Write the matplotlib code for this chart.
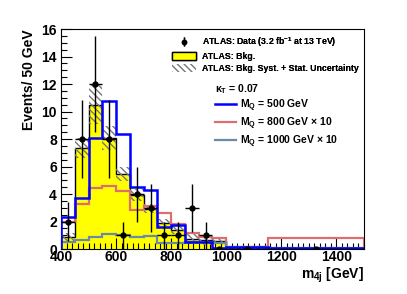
import numpy as np
import matplotlib
matplotlib.use("Agg")
import matplotlib.pyplot as plt
from matplotlib.patches import Patch
from matplotlib.lines import Line2D
from matplotlib.ticker import MultipleLocator

plt.rcParams["font.family"] = ["Liberation Sans", "DejaVu Sans"]
plt.rcParams["mathtext.default"] = "regular"

# binning (GeV)
edges = [400, 450, 500, 550, 600, 650, 700, 750, 800, 850, 900, 950, 1000, 1150, 1500]

# background + uncertainty
bkg = [0.85, 7.35, 10.5, 8.07, 5.48, 3.95, 2.93, 1.9, 1.4, 0.75, 0.62, 0.6, 0.08, 0.03]
bkg_err = [0.3, 0.75, 1.4, 0.9, 0.5, 0.45, 0.32, 0.25, 0.3, 0.35, 0.3, 0.2, 0.05, 0.02]

# data
data = [2, 8, 12, 8, 1, 4, 3, 1, 1, 3, 1, 0, 0, 0]

# signals
sig500 = [2.3, 3.7, 8.1, 10.8, 8.35, 4.5, 4.3, 1.6, 1.75, 0.53, 0.53, 0.08, 0.12, 0.08]
sig800 = [2.0, 3.3, 4.45, 4.6, 4.2, 2.85, 3.15, 2.65, 1.85, 1.17, 0.9, 0.82, 0.17, 0.78]
sig1000 = [0.5, 0.65, 0.85, 1.1, 1.0, 0.88, 0.95, 0.45, 0.42, 0.5, 0.5, 0.45, 0.14, 0.1]

edges = np.array(edges, dtype=float)
centers = 0.5 * (edges[:-1] + edges[1:])
halfw = 0.5 * np.diff(edges)
bkg = np.array(bkg)
bkg_err = np.array(bkg_err)
data = np.array(data, dtype=float)

fig = plt.figure(figsize=(4.07, 2.94), dpi=100)
ax = fig.add_axes([0.150, 0.153, 0.744, 0.748])

# background
ax.stairs(bkg, edges, fill=True, color="#ffff00", zorder=1)
ax.stairs(bkg, edges, color="black", lw=1.0, zorder=2)

# hatched uncertainty band
ax.bar(centers, 2 * bkg_err, bottom=bkg - bkg_err, width=np.diff(edges),
       fill=False, hatch="\\\\\\\\\\", edgecolor="#777777", lw=0, zorder=3)

# signals
ax.stairs(sig800, edges, color="#dd6e6e", lw=1.6, zorder=4)
ax.stairs(sig1000, edges, color="#6a8aa8", lw=1.6, zorder=4)
ax.stairs(sig500, edges, color="#0000ff", lw=1.8, zorder=5)

# data
ax.errorbar(centers, data, yerr=np.sqrt(data), xerr=halfw, fmt="o", color="black",
            ms=3.5, lw=1.0, capsize=0, zorder=6)

ax.set_xlim(400, 1500)
ax.set_ylim(0, 16)
ax.xaxis.set_major_locator(MultipleLocator(200))
ax.xaxis.set_minor_locator(MultipleLocator(20))
ax.yaxis.set_major_locator(MultipleLocator(2))
ax.yaxis.set_minor_locator(MultipleLocator(0.5))
ax.tick_params(which="both", direction="in", top=False, right=False)
ax.tick_params(which="major", length=8, width=0.8)
ax.tick_params(which="minor", length=4, width=0.8)
for lab in ax.get_xticklabels() + ax.get_yticklabels():
    lab.set_fontweight("bold")
    lab.set_fontsize(10)
ax.tick_params(axis="x", pad=1)
ax.tick_params(axis="y", pad=3)

ax.set_ylabel("Events/ 50 GeV", fontsize=10, fontweight="bold", loc="top")
ax.set_xlabel(r"m$_{4j}$ [GeV]", fontsize=10, fontweight="bold", loc="right", labelpad=1)

# legend 1
h_data = ax.errorbar([], [], yerr=[], fmt="o", color="black", ms=3, lw=1.0)
h_bkg = Patch(facecolor="#ffff00", edgecolor="black", lw=1.0)
h_unc = Patch(facecolor="white", edgecolor="#777777", hatch="\\\\\\\\\\", lw=0)
leg1 = fig.legend([h_data, h_bkg, h_unc],
                  [r"ATLAS: Data (3.2 fb$^{-1}$ at 13 TeV)", "ATLAS: Bkg.",
                   "ATLAS: Bkg. Syst. + Stat. Uncertainty"],
                  loc="upper left", bbox_to_anchor=(172 / 407, 1 - 35.5 / 294),
                  frameon=False, borderpad=0, borderaxespad=0,
                  prop={"size": 6.3, "weight": "bold"},
                  handlelength=2.75, handleheight=0.9, handletextpad=0.7,
                  labelspacing=0.33)

# legend 2
h1 = Line2D([], [], color="#0000ff", lw=1.8)
h2 = Line2D([], [], color="#dd6e6e", lw=1.6)
h3 = Line2D([], [], color="#6a8aa8", lw=1.6)
leg2 = fig.legend([h1, h2, h3],
                  [r"M$_{Q}$ = 500 GeV", r"M$_{Q}$ = 800 GeV $\times$ 10",
                   r"M$_{Q}$ = 1000 GeV $\times$ 10"],
                  loc="upper left", bbox_to_anchor=(215 / 407, 1 - 82 / 294),
                  frameon=False, borderpad=0, borderaxespad=0,
                  prop={"size": 7.5, "weight": "bold"},
                  handlelength=2.0, handletextpad=0.4, labelspacing=0.15,
                  title=r"$\kappa_{T}$ = 0.07", title_fontproperties={"size": 7.5, "weight": "bold"},
                  alignment="left")
fig.add_artist(leg1)

fig.savefig("out.png", dpi=100)
